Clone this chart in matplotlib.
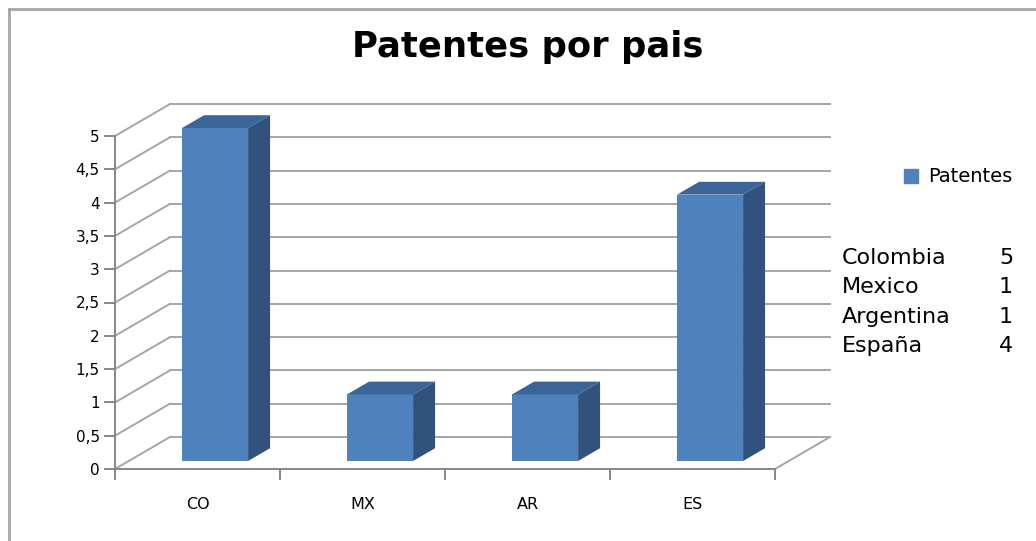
import matplotlib
matplotlib.use("Agg")
import matplotlib.pyplot as plt
from matplotlib.patches import Polygon, Patch

# data
codigos = ["CO", "MX", "AR", "ES"]
paises = ["Colombia", "Mexico", "Argentina", "España"]
patentes = [5, 1, 1, 4]
y_ticks = [0, 0.5, 1, 1.5, 2, 2.5, 3, 3.5, 4, 4.5, 5]

W, H = 1036, 541
fig = plt.figure(figsize=(W / 100, H / 100), dpi=100)

# front plane of the fake 3d box (pixels -> figure fraction)
ax = fig.add_axes([115 / W, (H - 469) / H, 660 / W, 333 / H])
ax.set_xlim(-0.5, len(codigos) - 0.5)
ax.set_ylim(0, 5)

# depth of the box in data units
DX, DY = 0.333, 0.48
grid_c = "#a6a6a6"
front_c, top_c, side_c = "#4f81bd", "#3b6597", "#30527c"

x0, x1 = -0.5, len(codigos) - 0.5
# back wall + left wall gridlines
for v in y_ticks:
    ax.plot([x0 + DX, x1 + DX], [v + DY, v + DY], color=grid_c, lw=1.4,
            clip_on=False, zorder=1)
    ax.plot([x0, x0 + DX], [v, v + DY], color=grid_c, lw=1.4,
            clip_on=False, zorder=1)
# floor right edge
ax.plot([x1, x1 + DX], [0, DY], color=grid_c, lw=1.4, clip_on=False, zorder=1)

# bars
fx, fy, b, w = 0.32, 0.25, 0.4, 0.4
for i, v in enumerate(patentes):
    xc = i + fx * DX
    base = fy * DY
    ax.bar(xc, v, width=w, bottom=base, color=front_c, zorder=3, clip_on=False)
    xl, xr, top = xc - w / 2, xc + w / 2, base + v
    ax.add_patch(Polygon([(xl, top), (xr, top), (xr + b * DX, top + b * DY),
                          (xl + b * DX, top + b * DY)], closed=True,
                         facecolor=top_c, edgecolor="none", zorder=3, clip_on=False))
    ax.add_patch(Polygon([(xr, base), (xr + b * DX, base + b * DY),
                          (xr + b * DX, top + b * DY), (xr, top)], closed=True,
                         facecolor=side_c, edgecolor="none", zorder=3, clip_on=False))

for s in ["top", "right"]:
    ax.spines[s].set_visible(False)
for s in ["left", "bottom"]:
    ax.spines[s].set_color("#868686")
    ax.spines[s].set_linewidth(1.4)
ax.set_facecolor("none")

ax.set_yticks(y_ticks)
ax.set_yticklabels([("%g" % t).replace(".", ",") for t in y_ticks])
ax.set_xticks([i - 0.5 for i in range(len(codigos) + 1)])
ax.set_xticklabels([])
ax.set_xticks(range(len(codigos)), minor=True)
ax.set_xticklabels(codigos, minor=True)
ax.tick_params(axis="x", which="major", length=8, color="#868686", width=1.4)
ax.tick_params(axis="x", which="minor", length=0, pad=20, labelsize=11.5)
ax.tick_params(axis="y", length=8, color="#868686", width=1.4, labelsize=11, pad=3)

fig.text(528 / W, 1 - 47 / H, "Patentes por pais", ha="center", va="center",
         fontsize=25.5, fontweight="bold")

fig.legend(handles=[Patch(color=front_c)], labels=["Patentes"], loc="center left",
           bbox_to_anchor=(886 / W, 1 - 177 / H), frameon=False,
           handlelength=0.75, handleheight=0.75, handletextpad=0.5, fontsize=14)

for k, (p, n) in enumerate(zip(paises, patentes)):
    yy = 1 - (258 + 29.3 * k) / H
    fig.text(842 / W, yy, p, ha="left", va="center", fontsize=16)
    fig.text(1006 / W, yy, str(n), ha="center", va="center", fontsize=16)

# outer chart border
fig.add_artist(plt.Line2D([9 / W, 9 / W], [0, 1 - 9 / H], transform=fig.transFigure,
                          color="#a6a6a6", lw=2))
fig.add_artist(plt.Line2D([9 / W, 1], [1 - 9 / H, 1 - 9 / H], transform=fig.transFigure,
                          color="#a6a6a6", lw=2))

fig.savefig("out.png", dpi=100)
